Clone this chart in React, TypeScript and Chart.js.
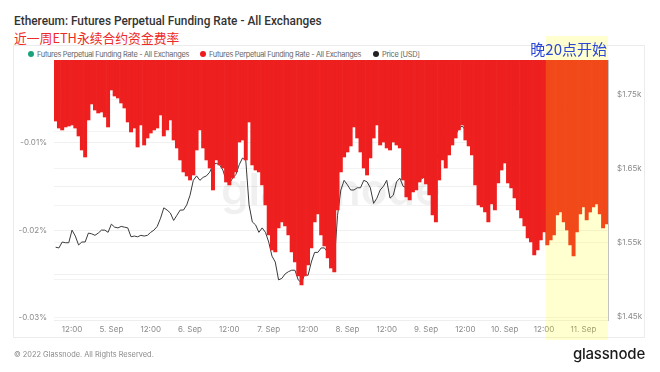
import React, { useEffect, useRef } from "react";
import { Chart, registerables } from "chart.js";
Chart.register(...registerables);

// Hourly funding rate (%) starting at hour 7 after 2022-09-04 00:00 UTC
const START_HOUR = 7;
const FUNDING = [
  -0.00749, -0.00829, -0.00851, -0.00817, -0.00806, -0.00794, -0.00829, -0.0092, -0.0108, -0.0116,
  -0.00737, -0.00554, -0.00623, -0.00657, -0.00646, -0.00703, -0.00817, -0.00394, -0.00463, -0.00486,
  -0.00543, -0.006, -0.0076, -0.00874, -0.00829, -0.01046, -0.00794, -0.01023, -0.00943, -0.00886,
  -0.00851, -0.00829, -0.0068, -0.0092, -0.00851, -0.00737, -0.00966, -0.01057, -0.01194, -0.01331,
  -0.01377, -0.01423, -0.01366, -0.0108, -0.00851, -0.01057, -0.01194, -0.01286, -0.01537, -0.01194,
  -0.01251, -0.01286, -0.01446, -0.0148, -0.014, -0.01331, -0.00989, -0.00966, -0.01194, -0.0076,
  -0.01251, -0.01309, -0.01331, -0.0148, -0.01709, -0.02051, -0.02223, -0.02246, -0.01971, -0.01903,
  -0.01949, -0.02051, -0.02246, -0.0236, -0.0252, -0.02623, -0.0252, -0.02394, -0.022, -0.01903,
  -0.01811, -0.02051, -0.02177, -0.02314, -0.02429, -0.02474, -0.01766, -0.01331, -0.0116, -0.01103,
  -0.01034, -0.00817, -0.00943, -0.01103, -0.01286, -0.01366, -0.01171, -0.00943, -0.00794, -0.01023,
  -0.00989, -0.01057, -0.0108, -0.00989, -0.01023, -0.01057, -0.01423, -0.01617, -0.01651, -0.0156,
  -0.01537, -0.01446, -0.014, -0.01469, -0.01594, -0.01823, -0.01903, -0.01423, -0.01194, -0.01286,
  -0.01137, -0.01023, -0.00943, -0.00851, -0.00794, -0.00966, -0.01034, -0.01137, -0.0148, -0.01709,
  -0.01731, -0.01789, -0.01903, -0.01697, -0.01766, -0.01457, -0.01309, -0.01229, -0.01457, -0.01514,
  -0.01629, -0.01766, -0.01857, -0.01949, -0.02086, -0.02131, -0.0228, -0.02223, -0.02109, -0.02017,
  -0.02166, -0.02109, -0.02051, -0.01823, -0.01789, -0.01903, -0.01994, -0.02166, -0.02291, -0.02017,
  -0.01811, -0.01731, -0.0188, -0.01789, -0.01731, -0.01697, -0.01811, -0.01971, -0.01926,
];
const PRICE = [
  1544, 1543, 1551, 1550, 1550, 1567, 1559, 1547, 1551, 1551,
  1563, 1562, 1560, 1563, 1567, 1567, 1564, 1575, 1571, 1570,
  1572, 1571, 1570, 1558, 1559, 1558, 1560, 1559, 1560, 1564,
  1567, 1572, 1583, 1597, 1594, 1590, 1580, 1587, 1594, 1594,
  1601, 1614, 1634, 1640, 1634, 1638, 1640, 1645, 1655, 1657,
  1655, 1648, 1634, 1630, 1637, 1642, 1655, 1664, 1661, 1601,
  1578, 1574, 1564, 1570, 1564, 1551, 1532, 1524, 1500, 1502,
  1508, 1511, 1513, 1513, 1500, 1496, 1508, 1506, 1524, 1537,
  1537, 1543, 1543, 1537, 1529, 1524, 1587, 1621, 1634, 1628,
  1621, 1621, 1624, 1624, 1634, 1632, 1624, 1603, 1610, 1621,
  1626, 1634, 1610, 1614, 1632, 1637, 1626, 1624, 1629, 1634,
  1632, 1634, 1637, 1641, 1645, 1655, 1661, 1672, 1677, 1685,
  1688, 1691, 1695, 1704, 1707, 1702, 1708, 1715, 1718, 1722,
  1718, 1720, 1715, 1712, 1715, 1711, 1714, 1718, 1712, 1715,
  1729, 1733, 1731, 1734, 1726, 1718, 1722, 1715, 1719, 1716,
  1720, 1723, 1719, 1726, 1729, 1731, 1729, 1734, 1737, 1742,
  1739, 1746, 1749, 1753, 1758, 1761, 1755, 1753, 1747,
];

const HIGHLIGHT_FROM = 156.5; // Sep 10 12:00 UTC (20:00 Beijing)
const X_TICKS = [12, 24, 36, 48, 60, 72, 84, 96, 108, 120, 132, 144, 156, 168];
const X_LABELS = ["12:00", "5. Sep", "12:00", "6. Sep", "12:00", "7. Sep", "12:00", "8. Sep", "12:00", "9. Sep", "12:00", "10. Sep", "12:00", "11. Sep"];
const RATE_GRID = [-0.03, -0.025, -0.02, -0.015, -0.01, -0.005];
const RATE_LABELED = [-0.03, -0.02, -0.01];
const PRICE_GRID = [1450, 1500, 1550, 1600, 1650, 1700, 1750];
const PRICE_LABELED = [1450, 1550, 1650, 1750];

const FONT = "Inter, 'Noto Sans', sans-serif";

const overlayPlugin = {
  id: "overlay",
  beforeDatasetsDraw(chart: any) {
    const { ctx, chartArea } = chart;
    ctx.save();
    ctx.font = "600 44px Inter";
    ctx.fillStyle = "rgba(0,0,0,0.06)";
    ctx.textAlign = "center";
    ctx.textBaseline = "middle";
    ctx.fillText("glassnode", (chartArea.left + chartArea.right) / 2, (chartArea.top + chartArea.bottom) / 2 + 2);
    ctx.restore();
  },
  afterDraw(chart: any) {
    const { ctx, chartArea, scales } = chart;
    const x0 = scales.x.getPixelForValue(HIGHLIGHT_FROM);
    ctx.save();
    ctx.fillStyle = "rgba(255,255,0,0.19)";
    ctx.fillRect(x0, 36, chartArea.right - x0, 304);
    ctx.fillStyle = "#2a47d6";
    ctx.font = "15px 'Noto Sans CJK SC'";
    ctx.textAlign = "right";
    ctx.textBaseline = "middle";
    ctx.fillText("晚20点开始", chartArea.right - 1, 49);
    ctx.restore();
  },
};

export default function App() {
  const ref = useRef<HTMLCanvasElement>(null);
  useEffect(() => {
    const hours = FUNDING.map((_, i) => START_HOUR + i);
    const tickFont = { size: 8, family: FONT };
    const chart = new Chart(ref.current as HTMLCanvasElement, {
      type: "bar",
      data: {
        datasets: [
          {
            type: "bar",
            label: "Futures Perpetual Funding Rate - All Exchanges",
            data: hours.map((h, i) => ({ x: h, y: FUNDING[i] })),
            backgroundColor: "#ee1f1f",
            borderWidth: 0,
            barPercentage: 1,
            categoryPercentage: 1,
            yAxisID: "y",
            order: 1,
          } as any,
          {
            type: "line",
            label: "Price [USD]",
            data: hours.map((h, i) => ({ x: h, y: PRICE[i] })),
            borderColor: "#3a3a3a",
            borderWidth: 1,
            pointRadius: 0,
            tension: 0,
            yAxisID: "y1",
            order: 2,
          } as any,
        ],
      },
      options: {
        animation: false,
        responsive: false,
        maintainAspectRatio: false,
        layout: { padding: { top: 60, bottom: 32, left: 0, right: 0 } },
        plugins: { legend: { display: false }, tooltip: { enabled: false } },
        scales: {
          x: {
            type: "linear",
            offset: false,
            min: 6.5,
            max: 175.5,
            afterBuildTicks: (s: any) => {
              s.ticks = X_TICKS.map((v) => ({ value: v }));
            },
            afterFit: (s: any) => {
              s.height = 20;
            },
            ticks: {
              callback: (v: any) => {
                const i = X_TICKS.indexOf(v);
                return i >= 0 ? X_LABELS[i] : "";
              },
              font: tickFont,
              color: "#8a8a8a",
              maxRotation: 0,
              autoSkip: false,
              padding: 5,
            },
            grid: { display: false, drawTicks: false },
            border: { display: true, color: "#eeeeee" },
          },
          y: {
            position: "left",
            min: -0.03023,
            max: -0.000514,
            afterBuildTicks: (s: any) => {
              s.ticks = RATE_GRID.map((v) => ({ value: v }));
            },
            afterFit: (s: any) => {
              s.width = 54;
            },
            ticks: {
              callback: (v: any) => (RATE_LABELED.includes(v) ? `${v}%` : ""),
              font: tickFont,
              color: "#8a8a8a",
              padding: 7,
            },
            grid: { color: "#f0f0f0", drawTicks: false },
            border: { display: false },
          },
          y1: {
            position: "right",
            min: 1446,
            max: 1796,
            afterBuildTicks: (s: any) => {
              s.ticks = PRICE_GRID.map((v) => ({ value: v }));
            },
            afterFit: (s: any) => {
              s.width = 52;
            },
            ticks: {
              callback: (v: any) => (PRICE_LABELED.includes(v) ? `$${(v / 1000).toFixed(2)}k` : ""),
              font: tickFont,
              color: "#8a8a8a",
              padding: 9,
            },
            grid: { color: "#f3f3f3", drawTicks: false },
            border: { display: true, color: "#c4c4c4" },
          },
        },
      } as any,
      plugins: [overlayPlugin],
    });
    return () => chart.destroy();
  }, []);

  const legendItem = (left: number, color: string, text: string) => (
    <div style={{ position: "absolute", left, top: 49, height: 10, display: "flex", alignItems: "center", fontSize: 7.4, letterSpacing: -0.3, color: "#666", fontFamily: FONT, whiteSpace: "nowrap" }}>
      <span style={{ display: "inline-block", width: 6, height: 6, borderRadius: 3, background: color, marginRight: 3 }} />
      {text}
    </div>
  );

  return (
    <div style={{ position: "fixed", left: 0, top: 0, width: 660, height: 372, background: "#fff", overflow: "hidden" }}>
      <div style={{ position: "absolute", left: 13, top: 45, width: 632, height: 293, border: "1px solid #ececec", boxSizing: "border-box" }} />
      <div style={{ position: "absolute", left: 14, top: 14, fontFamily: "Roboto, sans-serif", fontWeight: 500, fontSize: 11.85, color: "#333", whiteSpace: "nowrap", lineHeight: "14px" }}>
        Ethereum: Futures Perpetual Funding Rate - All Exchanges
      </div>
      <div style={{ position: "absolute", left: 14, top: 29, fontFamily: "'Noto Sans CJK SC', sans-serif", fontSize: 12.8, color: "#ee2a24", whiteSpace: "nowrap", lineHeight: "17px" }}>
        近一周ETH永续合约资金费率
      </div>
      {legendItem(28, "#1aa37a", "Futures Perpetual Funding Rate - All Exchanges")}
      {legendItem(200, "#ee1b1b", "Futures Perpetual Funding Rate - All Exchanges")}
      {legendItem(373, "#222", "Price [USD]")}
      <canvas ref={ref} width={660} height={372} style={{ position: "absolute", left: 0, top: 0, width: 660, height: 372, display: "block" }} />
      <div style={{ position: "absolute", left: 14, top: 350, fontFamily: FONT, fontSize: 7.4, color: "#8a8a8a", whiteSpace: "nowrap" }}>
        © 2022 Glassnode. All Rights Reserved.
      </div>
      <div style={{ position: "absolute", right: 15, top: 345, fontFamily: FONT, fontWeight: 500, fontSize: 15, lineHeight: "18px", color: "#1a1a1a", whiteSpace: "nowrap", letterSpacing: -0.2 }}>
        glassnode
      </div>
    </div>
  );
}
